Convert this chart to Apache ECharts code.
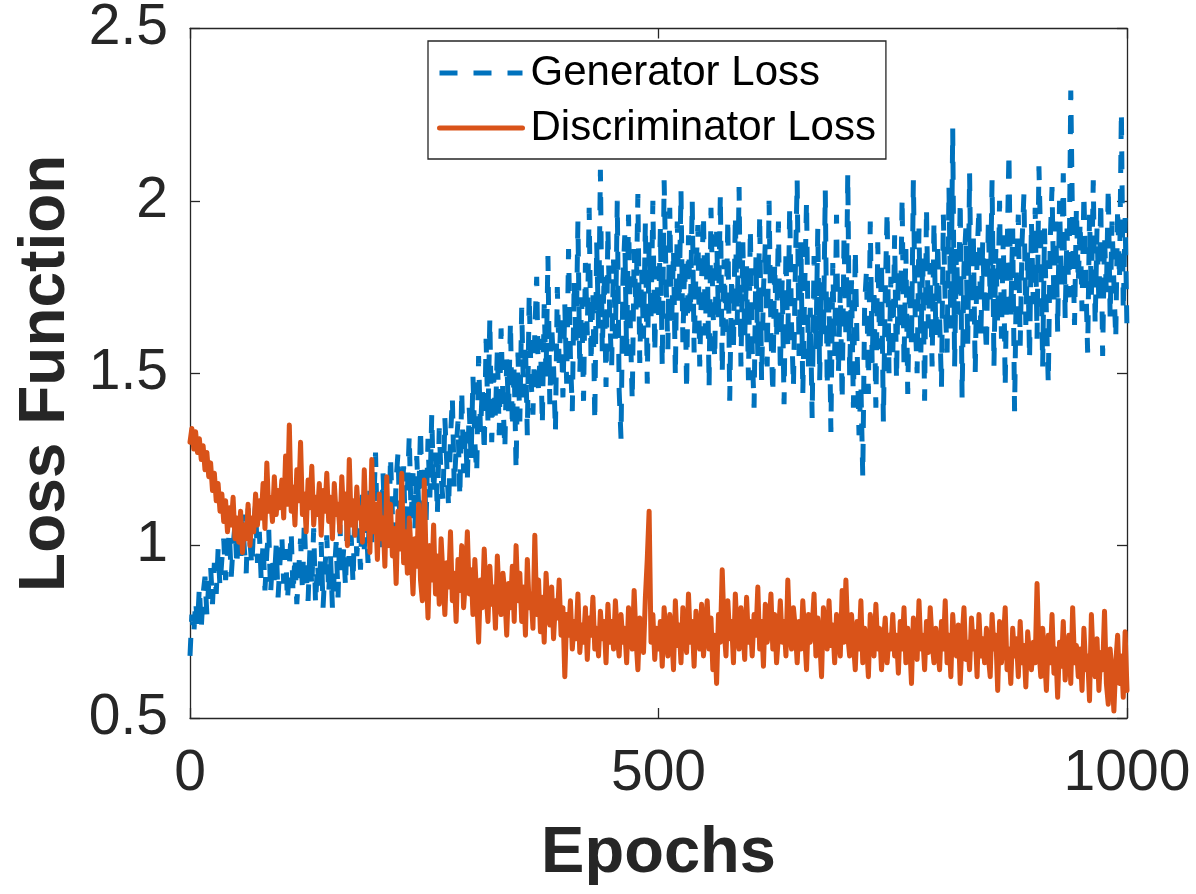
<!DOCTYPE html>
<html>
<head>
<meta charset="utf-8">
<script src="https://cdn.jsdelivr.net/npm/echarts@6/dist/echarts.min.js"></script>
<style>
html,body{margin:0;padding:0;background:#fff;}
#chart{width:1196px;height:894px;}
</style>
</head>
<body>
<div id="chart"></div>
<script>
// Epoch sampling step (x positions of the sampled values)
var epochStep = 2;

// Generator loss, sampled every 2 epochs (0..1000), 25 values per 50 epochs
var generatorLoss = [
  0.68, 0.80, 0.74, 0.84, 0.77, 0.88, 0.76, 0.86, 0.91, 0.80, 0.89, 0.94, 0.83, 0.95, 0.86, 0.99, 0.88, 0.96, 1.02, 0.90, 0.98, 1.04, 0.91, 1.00, 1.06,
  0.94, 1.07, 0.97, 1.09, 0.99, 0.92, 1.11, 1.01, 0.94, 1.06, 1.12, 0.95, 1.04, 0.90, 1.01, 0.87, 0.98, 1.05, 0.86, 0.96, 0.90, 1.00, 0.85, 0.95, 1.03,
  0.89, 0.99, 0.84, 0.94, 1.04, 0.86, 0.97, 0.83, 0.93, 1.02, 0.87, 1.07, 0.92, 0.84, 0.99, 0.88, 1.05, 0.83, 0.95, 0.87, 1.01, 0.82, 0.93, 1.03, 0.86,
  0.97, 0.82, 0.92, 1.01, 0.85, 1.06, 0.91, 0.99, 0.88, 1.09, 0.94, 1.03, 0.89, 1.11, 0.97, 1.05, 0.93, 1.15, 0.99, 1.08, 0.95, 1.18, 1.01, 1.11, 1.27,
  1.02, 1.15, 0.98, 1.21, 1.06, 1.17, 1.01, 1.26, 1.09, 1.03, 1.19, 1.27, 1.06, 1.14, 1.23, 1.02, 1.16, 1.32, 1.08, 1.21, 1.05, 1.26, 1.12, 1.34, 1.10,
  1.22, 1.07, 1.31, 1.14, 1.38, 1.15, 1.27, 1.09, 1.34, 1.20, 1.13, 1.37, 1.24, 1.11, 1.31, 1.43, 1.17, 1.28, 1.36, 1.14, 1.45, 1.21, 1.33, 1.19, 1.40,
  1.25, 1.49, 1.30, 1.21, 1.55, 1.33, 1.46, 1.27, 1.60, 1.36, 1.66, 1.30, 1.50, 1.37, 1.57, 1.32, 1.63, 1.42, 1.28, 1.54, 1.39, 1.65, 1.34, 1.52, 1.22,
  1.56, 1.36, 1.69, 1.43, 1.59, 1.32, 1.73, 1.48, 1.38, 1.62, 1.78, 1.44, 1.60, 1.35, 1.70, 1.49, 1.84, 1.41, 1.64, 1.52, 1.33, 1.75, 1.53, 1.67, 1.43,
  1.70, 1.47, 1.86, 1.55, 1.39, 1.77, 1.58, 1.94, 1.50, 1.72, 1.42, 1.82, 1.61, 1.98, 1.53, 1.74, 1.36, 1.88, 1.63, 2.09, 1.56, 1.79, 1.46, 1.92, 1.66,
  1.52, 1.83, 1.60, 2.00, 1.45, 1.31, 1.77, 1.90, 1.55, 1.96, 1.63, 1.42, 1.86, 1.68, 2.02, 1.53, 1.80, 1.60, 1.94, 1.47, 1.88, 1.65, 2.00, 1.56, 1.81,
  1.66, 1.92, 1.52, 2.06, 1.78, 1.57, 1.98, 1.64, 1.86, 1.49, 1.94, 1.70, 2.03, 1.59, 1.83, 1.45, 1.90, 1.67, 2.00, 1.56, 1.80, 1.93, 1.52, 1.77, 1.96,
  1.61, 1.86, 1.46, 1.98, 1.70, 1.54, 1.91, 1.66, 2.02, 1.50, 1.83, 1.62, 1.95, 1.42, 1.78, 1.57, 1.96, 1.64, 2.04, 1.52, 1.88, 1.60, 1.81, 1.48, 1.92,
  1.57, 1.40, 1.84, 1.55, 1.96, 1.48, 1.74, 1.88, 1.52, 2.00, 1.62, 1.44, 1.82, 1.60, 1.94, 1.50, 1.77, 1.41, 1.86, 1.58, 1.98, 1.64, 1.46, 1.79, 2.06,
  1.55, 1.88, 1.44, 1.74, 2.00, 1.52, 1.69, 1.37, 1.84, 1.57, 1.92, 1.48, 1.77, 1.60, 2.03, 1.46, 1.72, 1.33, 1.82, 1.55, 1.96, 1.50, 1.75, 1.42, 1.90,
  1.60, 2.08, 1.49, 1.77, 1.40, 1.86, 1.57, 1.32, 1.47, 1.20, 1.70, 1.80, 1.44, 1.94, 1.53, 1.75, 1.40, 1.88, 1.57, 1.82, 1.36, 1.73, 1.97, 1.50, 1.78,
  1.54, 1.90, 1.48, 1.80, 1.62, 2.01, 1.52, 1.86, 1.44, 1.77, 1.58, 2.06, 1.66, 1.50, 1.92, 1.56, 1.84, 1.42, 1.98, 1.63, 1.82, 1.52, 1.94, 1.61, 1.88,
  1.66, 1.46, 1.96, 1.70, 1.56, 2.04, 1.63, 2.21, 1.52, 1.86, 1.67, 2.00, 1.43, 1.81, 1.92, 1.58, 2.08, 1.65, 1.90, 1.50, 1.84, 1.98, 1.60, 1.88, 1.69,
  1.56, 1.94, 1.71, 2.06, 1.52, 1.86, 1.64, 2.00, 1.60, 1.90, 1.46, 1.84, 2.14, 1.67, 1.92, 1.39, 1.79, 1.96, 1.58, 1.88, 2.02, 1.64, 1.86, 1.54, 1.94,
  1.70, 1.98, 1.60, 2.10, 1.86, 1.52, 1.92, 1.67, 1.47, 1.88, 2.04, 1.70, 1.94, 1.62, 2.00, 1.75, 2.08, 1.66, 1.92, 1.72, 2.32, 1.90, 1.64, 1.98, 1.76,
  1.94, 1.68, 2.02, 1.78, 1.56, 1.96, 1.72, 2.06, 1.64, 1.92, 1.70, 2.00, 1.55, 1.90, 1.73, 2.04, 1.66, 1.94, 1.76, 1.60, 1.98, 1.77, 2.26, 1.68, 1.95,
  1.62
];

// Discriminator loss, sampled every 2 epochs (0..1000), 25 values per 50 epochs
var discriminatorLoss = [
  1.30, 1.34, 1.28, 1.33, 1.27, 1.31, 1.25, 1.29, 1.22, 1.27, 1.20, 1.24, 1.16, 1.21, 1.13, 1.18, 1.10, 1.15, 1.07, 1.13, 1.04, 1.11, 1.06, 1.14, 1.02,
  1.08, 1.01, 1.10, 0.98, 1.06, 1.02, 1.12, 1.00, 1.08, 1.04, 1.15, 1.06, 1.13, 1.08, 1.18, 1.05, 1.24, 1.10, 1.14, 1.07, 1.20, 1.09, 1.16, 1.11, 1.19,
  1.08, 1.26, 1.12, 1.35, 1.10, 1.17, 1.06, 1.22, 1.13, 1.30, 1.09, 1.15, 1.04, 1.19, 1.11, 1.23, 1.06, 1.14, 1.09, 1.18, 1.03, 1.16, 1.10, 1.21, 1.07,
  1.14, 1.02, 1.18, 1.09, 1.12, 1.04, 1.20, 1.08, 1.15, 1.00, 1.25, 1.06, 1.13, 1.03, 1.17, 1.08, 1.11, 1.01, 1.22, 1.05, 1.14, 0.98, 1.25, 1.04, 1.12,
  0.96, 1.15, 1.02, 1.08, 0.94, 1.20, 1.00, 1.12, 0.97, 1.05, 0.89, 1.10, 0.99, 1.21, 0.95, 1.04, 0.92, 1.08, 0.98, 0.86, 1.02, 0.94, 1.12, 0.90, 0.84,
  1.19, 0.95, 0.79, 1.00, 0.90, 1.06, 0.86, 0.97, 0.83, 1.02, 0.91, 0.80, 0.95, 0.88, 1.04, 0.84, 0.92, 0.78, 0.96, 0.87, 1.00, 0.82, 0.90, 1.04, 0.86,
  0.93, 0.80, 0.96, 0.85, 0.72, 0.90, 0.82, 0.99, 0.86, 0.78, 0.94, 0.83, 0.88, 0.76, 0.97, 0.84, 0.80, 0.92, 0.86, 0.74, 0.89, 0.82, 0.94, 0.78, 1.00,
  0.84, 0.92, 0.78, 0.88, 0.74, 0.96, 0.82, 0.86, 0.76, 1.03, 0.80, 0.90, 0.75, 0.85, 0.72, 0.92, 0.81, 0.77, 0.88, 0.73, 0.84, 0.79, 0.90, 0.74, 0.82,
  0.62, 0.80, 0.74, 0.84, 0.70, 0.78, 0.73, 0.86, 0.69, 0.77, 0.72, 0.82, 0.67, 0.79, 0.74, 0.85, 0.70, 0.76, 0.68, 0.81, 0.73, 0.78, 0.66, 0.83, 0.72,
  0.78, 0.70, 0.84, 0.74, 0.68, 0.80, 0.72, 0.76, 0.66, 0.82, 0.74, 0.70, 0.87, 0.73, 0.64, 0.79, 0.75, 0.69, 0.85, 0.96, 1.10, 0.72, 0.80, 0.67, 0.76,
  0.70, 0.78, 0.65, 0.82, 0.73, 0.68, 0.80, 0.75, 0.64, 0.84, 0.71, 0.77, 0.66, 0.82, 0.74, 0.69, 0.86, 0.72, 0.78, 0.65, 0.81, 0.74, 0.70, 0.83, 0.68,
  0.76, 0.84, 0.70, 0.79, 0.64, 0.74, 0.60, 0.80, 0.72, 0.93, 0.76, 0.68, 0.84, 0.73, 0.78, 0.66, 0.86, 0.74, 0.70, 0.82, 0.76, 0.67, 0.85, 0.72, 0.78,
  0.68, 0.80, 0.74, 0.88, 0.70, 0.78, 0.65, 0.83, 0.72, 0.76, 0.86, 0.70, 0.80, 0.66, 0.74, 0.84, 0.72, 0.78, 0.68, 0.90, 0.74, 0.70, 0.82, 0.76, 0.66,
  0.78, 0.70, 0.84, 0.74, 0.64, 0.80, 0.72, 0.76, 0.86, 0.68, 0.79, 0.73, 0.62, 0.82, 0.75, 0.70, 0.84, 0.71, 0.77, 0.66, 0.80, 0.73, 0.68, 0.87, 0.72,
  0.90, 0.74, 0.68, 0.80, 0.72, 0.64, 0.78, 0.70, 0.84, 0.66, 0.76, 0.72, 0.62, 0.80, 0.74, 0.68, 0.83, 0.70, 0.76, 0.64, 0.72, 0.79, 0.66, 0.74, 0.70,
  0.80, 0.68, 0.74, 0.63, 0.78, 0.70, 0.82, 0.66, 0.76, 0.72, 0.60, 0.79, 0.71, 0.67, 0.84, 0.70, 0.74, 0.64, 0.78, 0.69, 0.82, 0.72, 0.66, 0.76, 0.70,
  0.64, 0.78, 0.70, 0.84, 0.66, 0.74, 0.62, 0.80, 0.71, 0.68, 0.77, 0.60, 0.73, 0.82, 0.67, 0.72, 0.64, 0.79, 0.70, 0.75, 0.62, 0.80, 0.68, 0.73, 0.66,
  0.76, 0.68, 0.62, 0.80, 0.70, 0.74, 0.58, 0.78, 0.66, 0.72, 0.82, 0.64, 0.70, 0.60, 0.76, 0.68, 0.73, 0.62, 0.78, 0.66, 0.71, 0.59, 0.75, 0.68, 0.64,
  0.72, 0.66, 0.89, 0.70, 0.62, 0.76, 0.68, 0.58, 0.74, 0.66, 0.80, 0.63, 0.70, 0.56, 0.72, 0.65, 0.78, 0.61, 0.68, 0.74, 0.60, 0.82, 0.66, 0.71, 0.62,
  0.70, 0.58, 0.76, 0.64, 0.68, 0.55, 0.80, 0.66, 0.62, 0.73, 0.58, 0.69, 0.64, 0.81, 0.60, 0.54, 0.70, 0.63, 0.52, 0.66, 0.74, 0.60, 0.68, 0.56, 0.75,
  0.58
];

var xTicks = [0, 500, 1000];
var yTicks = [0.5, 1, 1.5, 2, 2.5];
var seriesNames = ['Generator Loss', 'Discriminator Loss'];

var epochs = generatorLoss.map(function (_, i) { return i * epochStep; });
function pairs(vals) { return vals.map(function (v, i) { return [epochs[i], v]; }); }

var axisColor = '#262626';
var font = 'Liberation Sans, Arial, Helvetica, sans-serif';
var plain = function (v) { return String(v); };

var chart = echarts.init(document.getElementById('chart'), null, {renderer: 'canvas'});
chart.setOption({
  animation: false,
  backgroundColor: '#ffffff',
  grid: {left: 190, right: 69, top: 28, bottom: 176, containLabel: false},
  legend: {
    orient: 'vertical',
    left: 428,
    top: 41,
    data: seriesNames,
    backgroundColor: '#ffffff',
    borderColor: '#262626',
    borderWidth: 1.3,
    borderRadius: 0,
    padding: [10, 10, 9, 9],
    itemWidth: 83,
    itemHeight: 14,
    itemGap: 11,
    itemStyle: {opacity: 0},
    lineStyle: {width: 5},
    textStyle: {fontFamily: font, fontSize: 42, color: '#000000', lineHeight: 44, padding: [0, 0, 0, 3]},
    selectedMode: false
  },
  xAxis: [{
    type: 'value', min: xTicks[0], max: xTicks[xTicks.length - 1], interval: 500,
    position: 'bottom',
    name: 'Epochs', nameLocation: 'middle', nameGap: 104,
    nameTextStyle: {fontFamily: font, fontSize: 65, fontWeight: 'bold', color: axisColor},
    axisLine: {show: true, onZero: false, lineStyle: {color: axisColor, width: 1.3}},
    axisTick: {show: true, inside: true, length: 10, lineStyle: {color: axisColor, width: 1.3}},
    axisLabel: {show: true, margin: 28, fontFamily: font, fontSize: 57, color: axisColor, formatter: plain},
    splitLine: {show: false}
  }, {
    type: 'value', min: xTicks[0], max: xTicks[xTicks.length - 1], interval: 500,
    position: 'top',
    axisLine: {show: true, onZero: false, lineStyle: {color: axisColor, width: 1.3}},
    axisTick: {show: true, inside: true, length: 10, lineStyle: {color: axisColor, width: 1.3}},
    axisLabel: {show: false},
    splitLine: {show: false}
  }],
  yAxis: [{
    type: 'value', min: yTicks[0], max: yTicks[yTicks.length - 1], interval: 0.5,
    position: 'left',
    name: 'Loss Function', nameLocation: 'middle', nameGap: 112,
    nameTextStyle: {fontFamily: font, fontSize: 64, fontWeight: 'bold', color: axisColor},
    axisLine: {show: true, onZero: false, lineStyle: {color: axisColor, width: 1.3}},
    axisTick: {show: true, inside: true, length: 10, lineStyle: {color: axisColor, width: 1.3}},
    axisLabel: {show: true, margin: 22, fontFamily: font, fontSize: 57, color: axisColor, formatter: plain},
    splitLine: {show: false}
  }, {
    type: 'value', min: yTicks[0], max: yTicks[yTicks.length - 1], interval: 0.5,
    position: 'right',
    axisLine: {show: true, onZero: false, lineStyle: {color: axisColor, width: 1.3}},
    axisTick: {show: true, inside: true, length: 10, lineStyle: {color: axisColor, width: 1.3}},
    axisLabel: {show: false},
    splitLine: {show: false}
  }],
  series: [{
    name: seriesNames[0],
    type: 'line',
    xAxisIndex: 0, yAxisIndex: 0,
    data: pairs(generatorLoss),
    symbol: 'none', showSymbol: false,
    color: '#0072BD',
    lineStyle: {color: '#0072BD', width: 5, type: [18, 16], cap: 'butt', join: 'miter'},
    emphasis: {disabled: true}
  }, {
    name: seriesNames[1],
    type: 'line',
    xAxisIndex: 0, yAxisIndex: 0,
    data: pairs(discriminatorLoss),
    symbol: 'none', showSymbol: false,
    color: '#D95319',
    lineStyle: {color: '#D95319', width: 5, type: 'solid', cap: 'round', join: 'round'},
    emphasis: {disabled: true}
  }]
});
</script>
</body>
</html>
